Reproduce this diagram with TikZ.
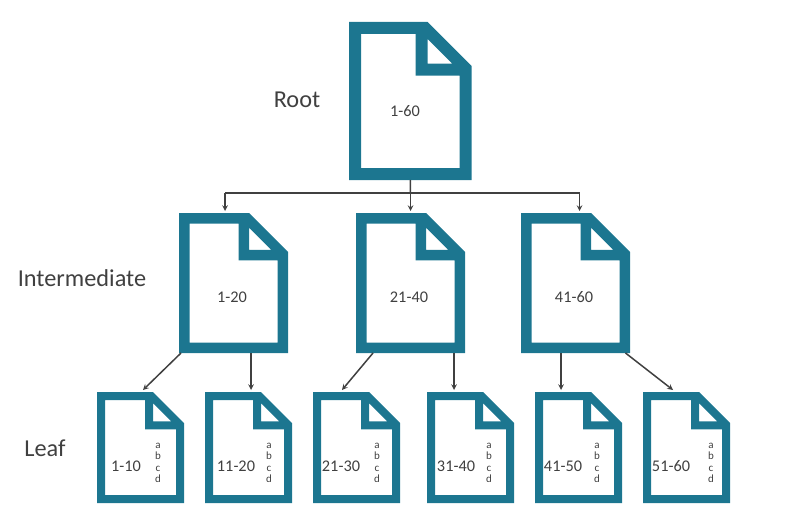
\documentclass[tikz,border=0pt]{standalone}
\usepackage{fontspec}
\setmainfont{Carlito}
\usepackage{xcolor}
\usetikzlibrary{arrows,calc,positioning}
\definecolor{sheetteal}{HTML}{1C7690}
\definecolor{inkgrey}{HTML}{404040}
\tikzset{%
	sheet/.style    = {rectangle, inner sep=0pt, outer sep=0pt, anchor=north west},
	tier/.style     = {text=inkgrey, font=\fontsize{24.3}{26}\selectfont},
	keyspan/.style  = {text=inkgrey, font=\fontsize{16.3}{18}\selectfont},
	letters/.style  = {text=inkgrey, align=center, font=\fontsize{11}{11.5}\selectfont},
	arrow/.style    = {draw=inkgrey, line width=1.5pt, -stealth},
	plain/.style    = {draw=inkgrey, line width=1.5pt},
}
% name, left, top, width, height, band, fold
\newcommand{\docsheet}[7]{%
	\node[sheet, minimum width=#4pt, minimum height=#5pt] (#1) at (#2,#3) {};
	\pgfmathsetmacro{\fx}{#2+#4-#7}
	\pgfmathsetmacro{\nb}{#3+#7+0.8*#6}
	\fill[sheetteal, even odd rule] (#2,#3) -- (\fx,#3) -- (#2+#4,#3+#7) -- (#2+#4,#3+#5) -- (#2,#3+#5) -- cycle
		(#2+#6,#3+#6) -- (\fx-#6,#3+#6) -- (\fx-#6,\nb) -- (#2+#4-#6,\nb) -- (#2+#4-#6,#3+#5-#6) -- (#2+#6,#3+#5-#6) -- cycle
		(\fx,#3+1.4*#6) -- (\fx,\nb-#6) -- (#2+#4-1.6*#6,\nb-#6) -- cycle;
}
\begin{document}
\begin{tikzpicture}[x=1pt,y=-1pt]
	\useasboundingbox (0,0) rectangle (785,527);
	
	\docsheet{root}{349}{22}{122.5}{158}{12}{44}
	\foreach \name/\x in {int1/179,int2/356,int3/521} {\docsheet{\name}{\x}{213}{109}{140}{10.5}{39}}
	\foreach \name/\x in {leaf1/97,leaf2/205,leaf3/313,leaf4/427,leaf5/535,leaf6/643} {\docsheet{\name}{\x}{392}{87}{111}{8}{31}}
	
	\node[tier] (rootlabel) at (297,100) {Root};
	\node[tier] (intlabel) at (82,278) {Intermediate};
	\node[tier] (leaflabel) at (45,448) {Leaf};
	
	\node[keyspan] (rootspan) at (405,111) {1-60};
	\foreach \name/\x/\txt in {int1/232/1-20,int2/409/21-40,int3/574/41-60} \node[keyspan] (\name-span) at (\x,297) {\txt};
	\foreach \name/\x/\txt in {leaf1/126/1-10,leaf2/236/11-20,leaf3/341/21-30,leaf4/456/31-40,leaf5/563/41-50,leaf6/671/51-60} \node[keyspan] (\name-span) at (\x,466) {\txt};
	\foreach \name/\x in {leaf1/158,leaf2/269,leaf3/377,leaf4/489,leaf5/597,leaf6/711} \node[letters] (\name-letters) at (\x,463) {a\\b\\c\\d};
	
	\coordinate (trunk) at (410.5,193);
	\draw[plain] (root.south) -- (trunk);
	\draw[plain] ([xshift=-8.5pt]trunk -| int1.north) -- ([xshift=4pt]trunk -| int3.north);
	\foreach \to/\ex in {int1/-8.5,int2/0,int3/4} \draw[arrow] ([xshift=\ex pt]trunk -| \to.north) -- ([xshift=\ex pt,yshift=2pt]\to.north);
	
	\foreach \from/\sx/\to/\ex in {int1/-52.5/leaf1/2.5,int1/17.5/leaf2/2.5,int2/-37.5/leaf3/-14.5,int2/43.5/leaf4/-16.5,int3/-14.5/leaf5/-17.5,int3/50/leaf6/-13.5} \draw[arrow] ([xshift=\sx pt]\from.south) -- ([xshift=\ex pt,yshift=2pt]\to.north);
\end{tikzpicture}
\end{document}
